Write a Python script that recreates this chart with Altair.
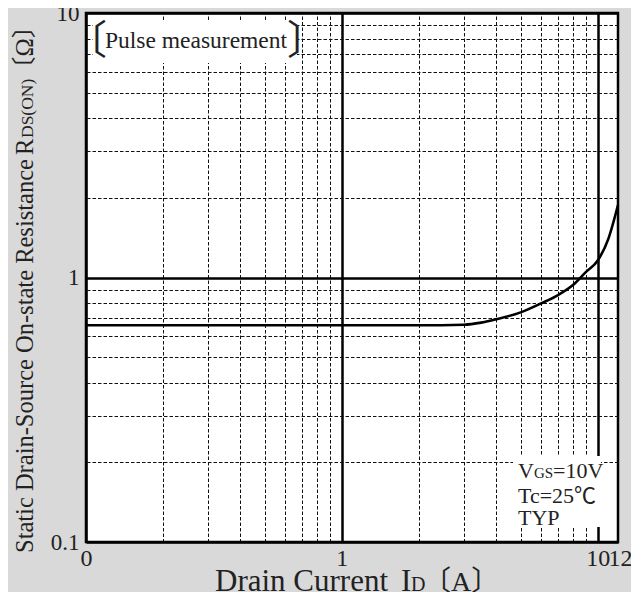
import altair as alt
import pandas as pd

# ---- data ----
drain_current = [0.1, 0.3, 1, 2, 3, 3.5, 4, 5, 6, 7, 8, 9, 10, 11, 12]
resistance = [0.66, 0.66, 0.66, 0.66, 0.663, 0.675, 0.695, 0.738, 0.798, 0.858, 0.936, 1.05, 1.16, 1.40, 1.88]

x_major = [0.1, 1, 10]
x_extra = [12]
x_minor = [0.2, 0.3, 0.4, 0.5, 0.6, 0.7, 0.8, 0.9, 2, 3, 4, 5, 6, 7, 8, 9]
y_major = [0.1, 1, 10]
y_minor = [0.2, 0.3, 0.4, 0.5, 0.6, 0.7, 0.8, 0.9, 2, 3, 4, 5, 6, 7, 8, 9]

df = pd.DataFrame({"I": drain_current, "R": resistance})
one = pd.DataFrame({"k": [0]})

FONT = "Liberation Serif"
MIX = "Liberation Serif, Noto Sans CJK JP"
INK = "#222222"

xscale = alt.Scale(type="log", domain=[0.1, 12], nice=False)
yscale = alt.Scale(type="log", domain=[0.1, 10], nice=False)

common = dict(ticks=False, domain=False, title=None, labelFlush=False, labelOverlap=False,
              labelFont=FONT, labelColor=INK)

curve = alt.Chart(df).mark_line(color="black", strokeWidth=2.6, interpolate="monotone").encode(
    x=alt.X("I:Q", scale=xscale, axis=alt.Axis(
        orient="bottom", values=x_major, format="~g",
        labelExpr="datum.value < 0.5 ? '0' : datum.label",
        labelFontSize=24, labelPadding=4,
        grid=True, gridColor="black", gridWidth=2.5, gridOpacity=1, **common)),
    y=alt.Y("R:Q", scale=yscale, axis=alt.Axis(
        orient="left", values=y_major, format="~g",
        labelFontSize=23, labelPadding=7,
        grid=True, gridColor="black", gridWidth=2.5, gridOpacity=1, **common)),
)

minor = alt.Chart(df).mark_point(opacity=0).encode(
    x=alt.X("I:Q", scale=xscale, axis=alt.Axis(
        orient="top", values=x_minor, labels=False,
        grid=True, gridColor="#111111", gridWidth=1, gridDash=[3.5, 2], gridOpacity=1, **common)),
    y=alt.Y("R:Q", scale=yscale, axis=alt.Axis(
        orient="right", values=y_minor, labels=False,
        grid=True, gridColor="#111111", gridWidth=1, gridDash=[3.5, 2], gridOpacity=1, **common)),
)

extra = alt.Chart(df).mark_point(opacity=0).encode(
    x=alt.X("I:Q", scale=xscale, axis=alt.Axis(
        orient="bottom", values=x_extra, format="~g",
        labelFontSize=24, labelPadding=4, labelOffset=2, grid=False, **common)),
    y=alt.Y("R:Q", scale=yscale, axis=None),
)


def box(x1, x2, y1, y2):
    return alt.Chart(one).mark_rect(fill="white").encode(
        x=alt.value(x1), x2=alt.value(x2), y=alt.value(y1), y2=alt.value(y2))


def txt(s, x, y, size, font=FONT, align="left", angle=0):
    return alt.Chart(one).mark_text(
        text=s, font=font, fontSize=size, align=align, baseline="alphabetic",
        angle=angle, color=INK).encode(x=alt.value(x), y=alt.value(y))


layers = [
    minor, curve, extra,
    box(7, 211, 8, 50),
    box(427, 515, 443, 514),
    # Pulse measurement note
    txt("〔", 21, 40.5, 40, font="Noto Sans CJK JP", align="right"),
    txt("Pulse measurement", 19, 35, 23.5),
    txt("〕", 201, 40.5, 40, font="Noto Sans CJK JP", align="left"),
    # conditions note
    txt("V", 432, 465, 22),
    txt("GS", 448, 465, 15),
    txt("=10V", 467, 465, 22),
    txt("Tc=25℃", 432, 490, 22, font=MIX),
    txt("TYP", 432, 512, 22),
    # x title
    txt("Drain Current", 129, 578, 31),
    txt("I", 315, 578, 31),
    txt("D", 325, 578, 20),
    txt("〔A〕", 337, 578, 28, font=MIX),
    # y title
    txt("Static Drain-Source On-state Resistance", -53, 540, 24.5, angle=270),
    txt("R", -53, 142, 24.5, angle=270),
    txt("DS(ON)", -53, 125, 17.5, angle=270),
    txt("〔Ω〕", -53, 68, 24.5, font=MIX, angle=270),
]

chart = alt.layer(*layers).resolve_axis(x="independent", y="independent").properties(
    width=532, height=529,
    autosize=alt.AutoSizeParams(type="none"),
    padding={"left": 78, "top": 5, "right": 13, "bottom": 50},
    background="#d9d9d9",
).configure_view(stroke="black", strokeWidth=2.5, fill="white")

chart.save("out.html", embed_options={"renderer": "svg", "actions": False})
